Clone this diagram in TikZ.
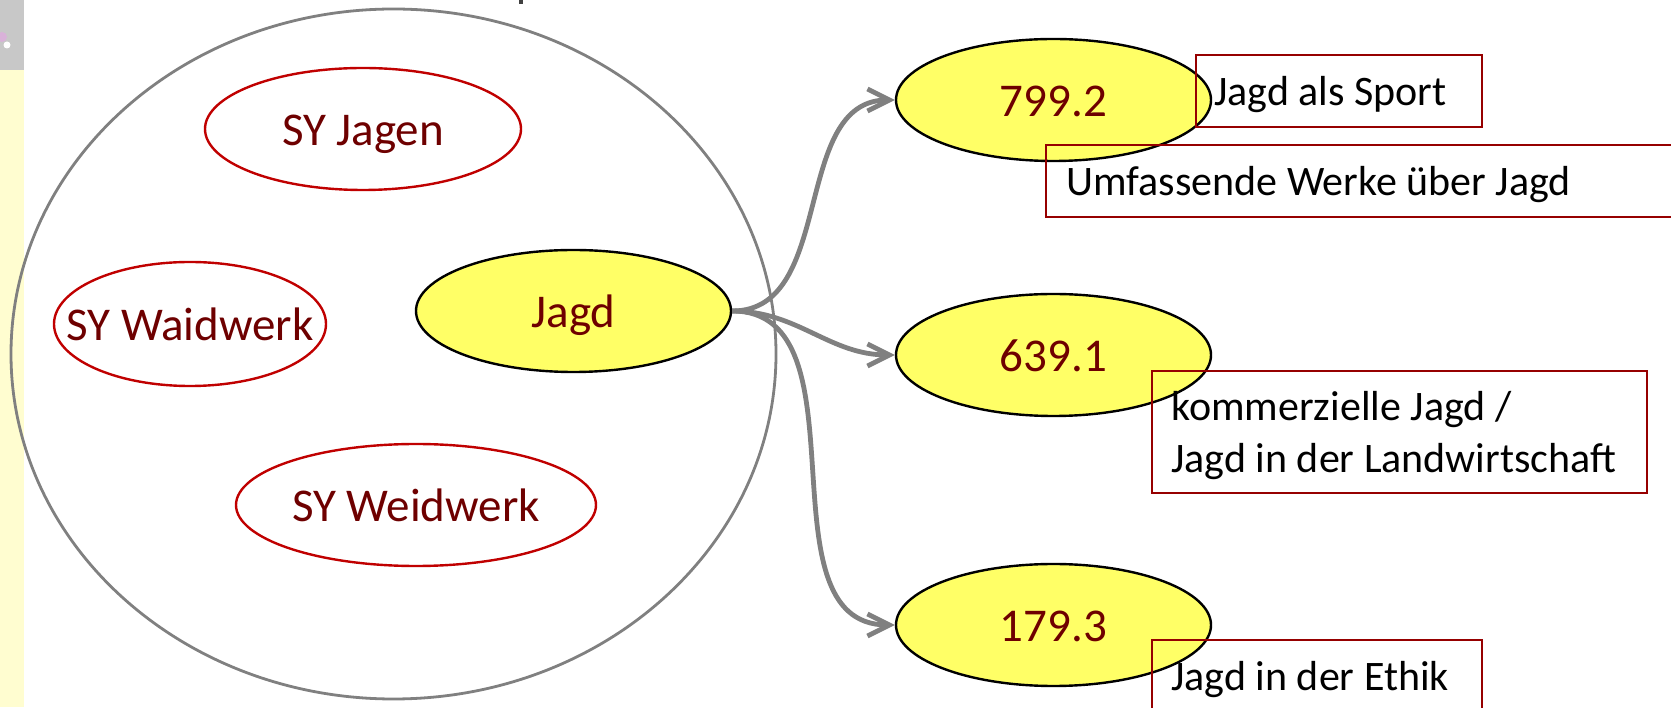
\documentclass[tikz,border=0pt]{standalone}
\usepackage{fontspec}
\setmainfont{Carlito}
\usetikzlibrary{shapes.geometric,arrows.meta}

\definecolor{ringred}{RGB}{192,0,0}
\definecolor{boxred}{RGB}{150,0,0}
\definecolor{labelred}{RGB}{110,0,0}
\definecolor{notation}{RGB}{255,255,102}
\definecolor{stripyellow}{RGB}{255,253,208}
\definecolor{stripgray}{RGB}{200,200,200}

\tikzset{
    synring/.style={ellipse, draw=ringred, line width=1.2pt, inner sep=0pt, minimum height=61pt},
    classnode/.style={ellipse, draw=black, fill=notation, line width=1.2pt, inner sep=0pt,
        minimum width=157.5pt, minimum height=61pt},
    elltext/.style={text=labelred, font=\fontsize{23.5}{28}\selectfont, inner sep=0pt,
        text height=15pt, text depth=0pt, yshift=-1pt},
    notebox/.style={draw=boxred, line width=1.2pt, anchor=north west, inner sep=0pt},
    notetext/.style={anchor=west, align=left, inner sep=0pt, yshift=-1.5pt,
        font=\fontsize{21}{26}\selectfont},
    link/.style={draw=gray, line width=2.4pt, -{Straight Barb[length=11pt,width=11pt]}}
}

\begin{document}
\begin{tikzpicture}[x=50pt, y=50pt]

    \useasboundingbox (0, 0) rectangle (16.71, 7.07);
    \clip (0, 0) rectangle (16.71, 7.07);

    \fill[stripyellow] (0, 0) rectangle (0.24, 6.37);
    \fill[stripgray] (0, 6.37) rectangle (0.24, 7.07);
      \fill[violet!30] (0.02, 6.70) circle (0.05);
      \fill[white] (0.07, 6.62) circle (0.035);
    \fill[black!75] (5.19, 7.03) rectangle (5.23, 7.07);

    \draw[gray, line width=1.4pt] (3.935, 3.53) ellipse (3.825 and 3.45);

    \node[synring, minimum width=158pt] (jagen) at (3.63, 5.78){};
      \node[elltext] (jagentext) at (jagen){SY Jagen};
    \node[synring, minimum width=136pt, minimum height=62pt] (waid) at (1.90, 3.83){};
      \node[elltext] (waidtext) at (waid){SY Waidwerk};
    \node[synring, minimum width=180pt] (weid) at (4.16, 2.02){};
      \node[elltext] (weidtext) at (weid){SY Weidwerk};

    \node[classnode] (jagd) at (5.735, 3.96){};
      \node[elltext] (jagdtext) at (jagd){Jagd};
    \node[classnode] (sport) at (10.535, 6.07){};
      \node[elltext] (sporttext) at (sport){799.2};
    \node[classnode] (landw) at (10.535, 3.52){};
      \node[elltext] (landwtext) at (landw){639.1};
    \node[classnode] (ethik) at (10.535, 0.82){};
      \node[elltext] (ethiktext) at (ethik){179.3};

    \draw[link] (jagd.east) to[out=0, in=180] (sport.west);
    \draw[link] (jagd.east) to[out=0, in=180] (landw.west);
    \draw[link] (jagd.east) to[out=0, in=180] (ethik.west);

    \node[notebox, minimum width=143pt, minimum height=36pt] (sportbox) at (11.95, 6.53){};
      \node[notetext] (sportnote) at ([xshift=9.5pt]sportbox.west){Jagd als Sport};
    \node[notebox, minimum width=322.5pt, minimum height=36pt] (werkebox) at (10.45, 5.63){};
      \node[notetext] (werkenote) at ([xshift=10.5pt]werkebox.west){Umfassende Werke über Jagd};
    \node[notebox, minimum width=247.5pt, minimum height=61pt] (landwbox) at (11.51, 3.37){};
      \node[notetext] (landwnote) at ([xshift=10pt]landwbox.west){kommerzielle Jagd /\\Jagd in der Landwirtschaft};
    \node[notebox, minimum width=165pt, minimum height=36pt] (ethikbox) at (11.51, 0.68){};
      \node[notetext] (ethiknote) at ([xshift=10pt]ethikbox.west){Jagd in der Ethik};
  \end{tikzpicture}
\end{document}
